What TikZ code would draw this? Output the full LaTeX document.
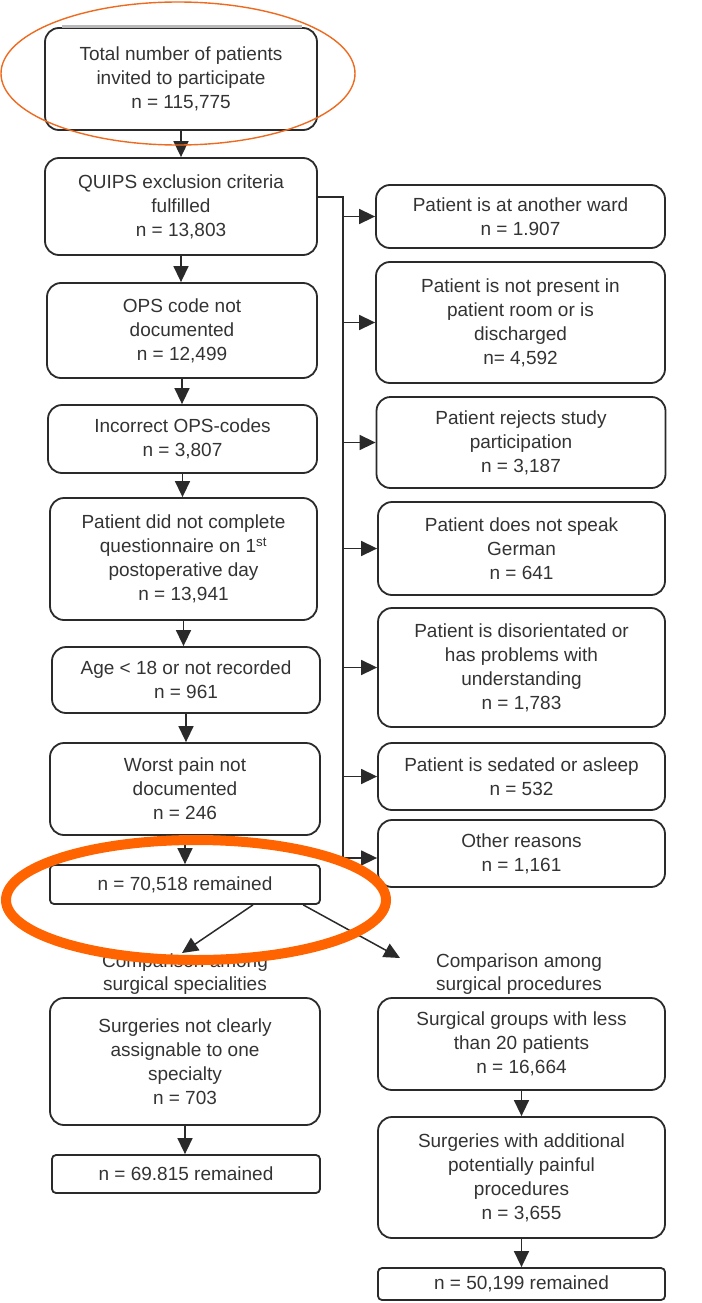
\documentclass[tikz,border=0pt]{standalone}
\usepackage{fontspec}
\setmainfont{Liberation Sans}
\usetikzlibrary{arrows.meta,calc}
\definecolor{ringA}{HTML}{EE6A1F}
\definecolor{ringB}{HTML}{FF6400}
\definecolor{ink}{HTML}{2A2A2A}
\definecolor{txt}{HTML}{333333}
\begin{document}
\begin{tikzpicture}[x=1pt,y=-1pt,
  box/.style={draw=ink, line width=1.8pt, rounded corners=14pt, align=center,
    font=\fontsize{19}{24}\selectfont, text=txt, inner sep=0pt},
  sqbox/.style={box, rounded corners=4pt},
  conn/.style={draw=ink, line width=1.5pt},
  arr/.style={conn, -{Triangle[length=16pt,width=15pt]}},
  lab/.style={align=center, font=\fontsize{19}{23}\selectfont, text=txt, inner sep=0pt},
  ringthin/.style={draw=ringA, line width=1.4pt},
  ringthick/.style={draw=ringB, line width=10pt}
]
\useasboundingbox (0,0) rectangle (701,1303);

% left column
\node[box, minimum width=272pt, minimum height=102pt] (b1) at (181,79) {Total number of patients\\invited to participate\\n = 115,775};
\node[box, minimum width=272pt, minimum height=97pt] (b2) at (181,206.5) {QUIPS exclusion criteria\\fulfilled\\n = 13,803};
\node[box, minimum width=270pt, minimum height=95pt] (b3) at (182,330.5) {OPS code not\\documented\\n = 12,499};
\node[box, minimum width=269pt, minimum height=68pt] (b4) at (182.5,439) {Incorrect OPS-codes\\n = 3,807};
\node[box, minimum width=267pt, minimum height=122pt] (b5) at (183.5,559) {Patient did not complete\\questionnaire on 1\textsuperscript{st}\\postoperative day\\n = 13,941};
\node[box, minimum width=268pt, minimum height=66pt] (b6) at (186,680) {Age {<} 18 or not recorded\\n = 961};
\node[box, minimum width=270pt, minimum height=92pt] (b7) at (185,789) {Worst pain not\\documented\\n = 246};
\node[sqbox, minimum width=270pt, minimum height=39pt] (b8) at (185,884.5) {n = 70,518 remained};

% right column
\node[box, minimum width=289pt, minimum height=63pt] (r1) at (520.5,216.5) {Patient is at another ward\\n = 1.907};
\node[box, minimum width=289pt, minimum height=121pt] (r2) at (520.5,322.5) {Patient is not present in\\patient room or is\\discharged\\n= 4,592};
\node[box, minimum width=289pt, minimum height=91pt] (r3) at (521,442.5) {Patient rejects study\\participation\\n = 3,187};
\node[box, minimum width=287pt, minimum height=93pt] (r4) at (521.5,548.5) {Patient does not speak\\German\\n = 641};
\node[box, minimum width=287pt, minimum height=119pt] (r5) at (521.5,667.5) {Patient is disorientated or\\has problems with\\understanding\\n = 1,783};
\node[box, minimum width=287pt, minimum height=67pt] (r6) at (521.5,776.5) {Patient is sedated or asleep\\n = 532};
\node[box, minimum width=287pt, minimum height=67pt] (r7) at (521.5,853.5) {Other reasons\\n = 1,161};

% bottom
\node[lab] (g1) at (185,974) {Comparison among\\surgical specialities};
\node[lab] (g2) at (519,974) {Comparison among\\surgical procedures};
\node[box, minimum width=270pt, minimum height=127pt] (c1) at (185,1061.5) {Surgeries not clearly\\assignable to one\\specialty\\n = 703};
\node[sqbox, minimum width=268pt, minimum height=38pt] (c2) at (186,1174) {n = 69.815 remained};
\node[box, minimum width=287pt, minimum height=92pt] (d1) at (521.5,1044) {Surgical groups with less\\than 20 patients\\n = 16,664};
\node[box, minimum width=287pt, minimum height=121pt] (d2) at (521.5,1177.5) {Surgeries with additional\\potentially painful\\procedures\\n = 3,655};
\node[sqbox, minimum width=287pt, minimum height=32pt] (d3) at (521.5,1284) {n = 50,199 remained};

% vertical arrows
\foreach \a/\b in {b1/b2,b2/b3,b3/b4,b4/b5,b5/b6,b6/b7,b7/b8,c1/c2,d1/d2,d2/d3}
  \draw[arr] (\a.south) -- (\a.south |- \b.north);

% trunk to the exclusion reasons
\coordinate (t0) at (343,197);
\coordinate (t1) at (343,864);
\draw[conn] (b2.east |- t0) -- (t0) -- (t1);
\foreach \r in {r1,r2,r3,r4,r5,r6}
  \draw[arr] (t0 |- \r.west) -- (\r.west);
\draw[arr] (t0 |- 0,858) -- (r7.west |- 0,858);

% split
\coordinate (e1) at (182,953);
\coordinate (e2) at (400,958);
\draw[arr] ($(b8.south west)!0.75!(b8.south east)$) -- (e1);
\draw[arr] ($(b8.south west)!0.935!(b8.south east)$) -- (e2);

% gray edge artefact on first box
\draw[gray!55, line width=3.5pt] (62,26.5) -- (302,26.5);

% orange highlight rings
\draw[ringthin] (178,73.5) ellipse [x radius=177, y radius=71.5];
\draw[ringthick] (196,900) ellipse [x radius=190, y radius=60];
\end{tikzpicture}
\end{document}
